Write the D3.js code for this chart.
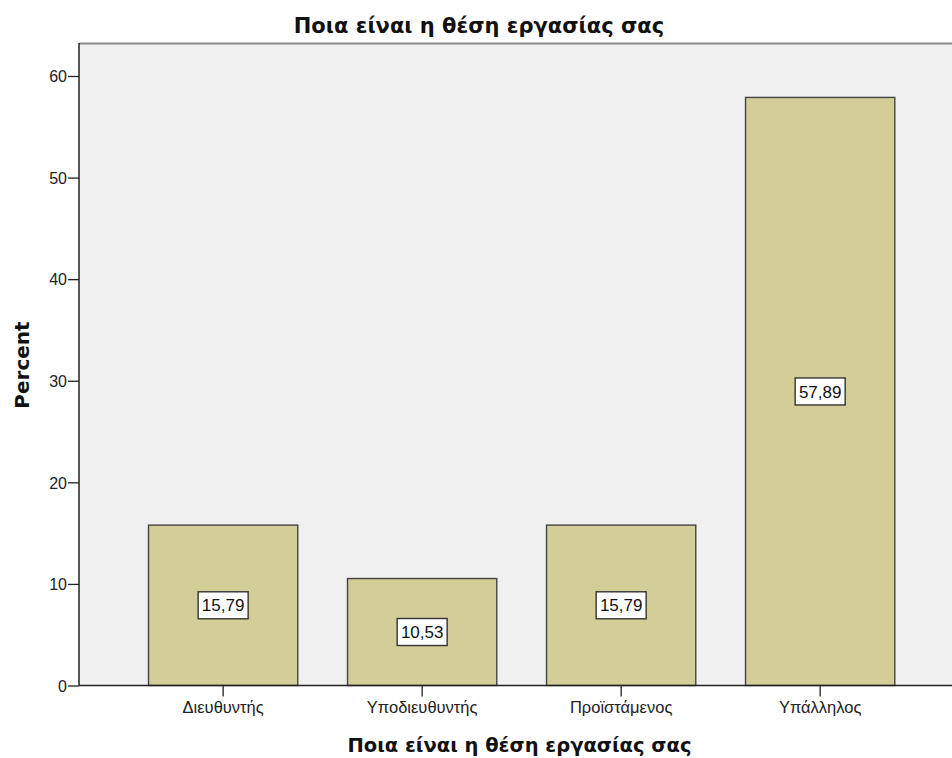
<!DOCTYPE html>
<html><head><meta charset="utf-8">
<script src="https://cdn.jsdelivr.net/npm/d3@7"></script>
<style>body{margin:0;background:#fff}svg{display:block}</style>
</head><body>
<script>
const categories = ["Διευθυντής","Υποδιευθυντής","Προϊστάμενος","Υπάλληλος"];
const values = [15.79, 10.53, 15.79, 57.89];
const labels = ["15,79","10,53","15,79","57,89"];
const yTicks = [0,10,20,30,40,50,60];
const title = "Ποια είναι η θέση εργασίας σας";
const xTitle = "Ποια είναι η θέση εργασίας σας";
const yTitle = "Percent";

const W=952,H=758;
const pL=79, pT=43, pR=952, pB=685.5;
const svg=d3.select("body").append("svg").attr("width",W).attr("height",H);
const font="'Liberation Sans', Arial, sans-serif";
const bfont="'DejaVu Sans', sans-serif";

const y=d3.scaleLinear().domain([0,60]).range([pB,76]);
const x=d3.scaleBand().domain(categories).range([90.3,952]).paddingInner(0.25).paddingOuter(0.29);

svg.append("rect").attr("x",pL).attr("y",pT).attr("width",pR-pL).attr("height",pB-pT).attr("fill","#f0f0f0");
svg.append("line").attr("x1",pL).attr("x2",pR).attr("y1",pT+0.5).attr("y2",pT+0.5).attr("stroke","#8a8a8a").attr("stroke-width",1.8);

svg.selectAll("rect.bar").data(values).enter().append("rect").attr("class","bar")
 .attr("x",(d,i)=>x(categories[i])+0.5).attr("y",d=>y(d)).attr("width",x.bandwidth())
 .attr("height",d=>pB-y(d)).attr("fill","#d3ce98").attr("stroke","#444").attr("stroke-width",1.4);

// axes
const ya=d3.axisLeft(y).tickValues(yTicks).tickSize(11).tickSizeOuter(0).tickFormat(d3.format("d"));
const gy=svg.append("g").attr("transform",`translate(${pL},0)`).call(ya);
gy.select(".domain").attr("d",`M0,${pT}V${pB}`).attr("stroke","#222").attr("stroke-width",1.5);
gy.selectAll(".tick line").attr("stroke","#222").attr("stroke-width",1.3);
gy.selectAll(".tick text").attr("font-family",font).attr("font-size",16).attr("fill","#222").attr("x",-12).attr("dy","0.36em");

const xa=d3.axisBottom(x).tickSize(11).tickSizeOuter(0);
const gx=svg.append("g").attr("transform",`translate(0.5,${pB})`).call(xa);
gx.select(".domain").attr("d",`M${pL-0.5},0H${pR}`).attr("stroke","#222").attr("stroke-width",1.5);
gx.selectAll(".tick line").attr("stroke","#222").attr("stroke-width",1.3);
gx.selectAll(".tick text").attr("font-family",font).attr("font-size",16.5).attr("fill","#222").attr("y",16);

// value labels
const lg=svg.selectAll("g.lab").data(values).enter().append("g").attr("class","lab")
 .attr("transform",(d,i)=>`translate(${x(categories[i])+x.bandwidth()/2+0.5},${y(d/2)})`);
lg.append("rect").attr("x",-25).attr("y",-13.5).attr("width",50).attr("height",27).attr("fill","#fff").attr("stroke","#333").attr("stroke-width",1.4);
lg.append("text").text((d,i)=>labels[i]).attr("text-anchor","middle").attr("dy","0.36em").attr("font-family",font).attr("font-size",17).attr("fill","#111");

svg.append("text").text(title).attr("x",479).attr("y",33).attr("text-anchor","middle").attr("font-family",bfont).attr("font-weight","bold").attr("font-size",21).attr("fill","#111");
svg.append("text").text(xTitle).attr("x",519.5).attr("y",752).attr("text-anchor","middle").attr("font-family",bfont).attr("font-weight","bold").attr("font-size",19.5).attr("fill","#111");
svg.append("text").text(yTitle).attr("transform","translate(29,365) rotate(-90)").attr("text-anchor","middle").attr("font-family",bfont).attr("font-weight","bold").attr("font-size",20).attr("fill","#111");
</script>
</body></html>
